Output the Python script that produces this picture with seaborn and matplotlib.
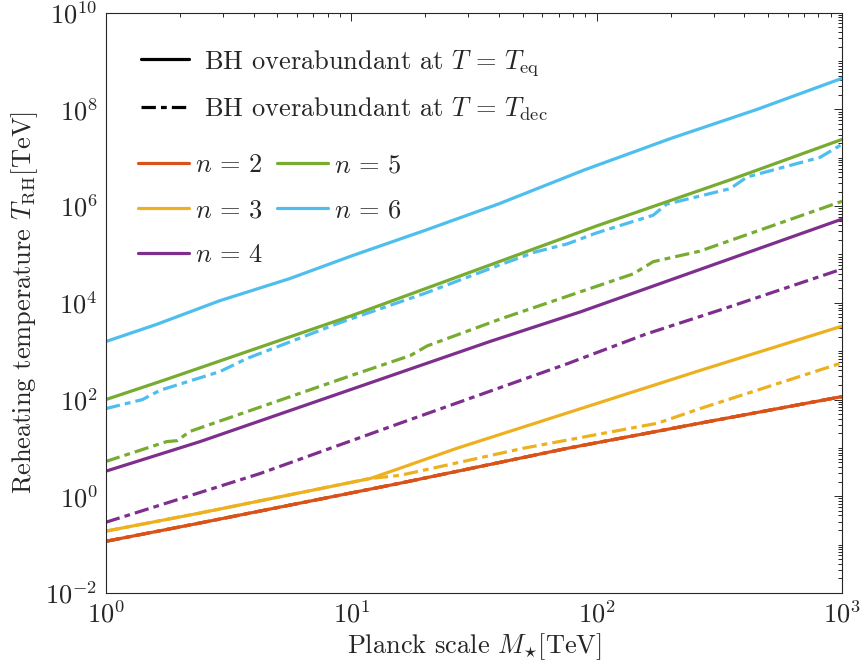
import numpy as np
import pandas as pd
import matplotlib
matplotlib.use("Agg")
import matplotlib.pyplot as plt
import matplotlib.ticker as mticker
from matplotlib.lines import Line2D
import seaborn as sns

# ---------------- data ----------------
# n = 2
x_n2_eq = [1, 2.42, 15.8, 75.9, 263, 1000]
y_n2_eq = [0.117, 0.28, 1.86, 9.8, 32.4, 115]
x_n2_dec = [1, 2.42, 15.8, 75.9, 263, 1000]
y_n2_dec = [0.117, 0.28, 1.86, 9.8, 32.4, 115]
# n = 3
x_n3_eq = [1, 2.42, 12.0, 15.8, 26.9, 263, 1000]
y_n3_eq = [0.19, 0.45, 2.34, 3.8, 9.8, 398, 3300]
x_n3_dec = [1, 2.42, 12.0, 15.8, 50.1, 177, 263, 1000]
y_n3_dec = [0.19, 0.45, 2.34, 2.7, 9.8, 32.4, 64.6, 575]
# n = 4
x_n4_eq = [1, 2.42, 36.7, 85.5, 1000]
y_n4_eq = [3.3, 13.5, 1585, 6457, 5.4e5]
x_n4_dec = [1, 4.25, 15.8, 75.9, 158, 331, 1000]
y_n4_dec = [0.29, 2.95, 32.4, 550, 2240, 7590, 5.0e4]
# n = 5
x_n5_eq = [1, 1.7, 10, 100, 150, 350, 1000]
y_n5_eq = [100, 245, 5.4e3, 3.9e5, 7.9e5, 3.5e6, 2.4e7]
x_n5_dec = [1, 1.77, 1.95, 2.2, 9.9, 17.4, 20.4, 40.7, 141, 170, 263, 1000]
y_n5_dec = [5.25, 13.5, 14.1, 21.9, 309, 813, 1288, 4677, 3.98e4, 7.1e4, 1.17e5, 1.26e6]
# n = 6
x_n6_eq = [1, 1.6, 2.9, 5.6, 10, 20, 40, 89, 200, 450, 1000]
y_n6_eq = [1585, 3548, 1.1e4, 3.16e4, 9.3e4, 3.16e5, 1.12e6, 5.6e6, 2.5e7, 1.0e8, 4.4e8]
x_n6_dec = [1, 1.41, 1.66, 2.92, 3.76, 9.0, 20, 40, 56, 76, 100, 170, 193, 350, 410, 813, 1000]
y_n6_dec = [65, 100, 155, 380, 708, 3.9e3, 1.58e4, 6.0e4, 1.12e5, 1.66e5, 2.8e5, 6.5e5,
            1.1e6, 2.3e6, 4.0e6, 1.02e7, 1.9e7]

n_labels = [r"$n\,=\,2$", r"$n\,=\,3$", r"$n\,=\,4$", r"$n\,=\,5$", r"$n\,=\,6$"]
n_colors = ["#D95319", "#EDB120", "#7E2F8E", "#77AC30", "#4DBEEE"]
style_labels = [r"BH overabundant at $T\,=\,T_{\rm eq}$", r"BH overabundant at $T\,=\,T_{\rm dec}$"]
x_ticks = [1, 10, 100, 1000]
y_ticks = [1e-2, 1e0, 1e2, 1e4, 1e6, 1e8, 1e10]

eq_series = [(x_n2_eq, y_n2_eq), (x_n3_eq, y_n3_eq), (x_n4_eq, y_n4_eq),
             (x_n5_eq, y_n5_eq), (x_n6_eq, y_n6_eq)]
dec_series = [(x_n2_dec, y_n2_dec), (x_n3_dec, y_n3_dec), (x_n4_dec, y_n4_dec),
              (x_n5_dec, y_n5_dec), (x_n6_dec, y_n6_dec)]

# ---------------- style ----------------
sns.set_style("white")
plt.rcParams["font.family"] = ["cmr10", "DejaVu Serif"]
plt.rcParams["mathtext.fontset"] = "cm"
plt.rcParams["axes.unicode_minus"] = False
plt.rcParams["axes.formatter.use_mathtext"] = True
FS = 19

fig = plt.figure(figsize=(8.61, 6.70), dpi=100)
ax = fig.add_axes([0.123, 0.115, 0.855, 0.866])
ax.set_xscale("log")
ax.set_yscale("log")

LW = 2.3
DASH = (0, (4.5, 1.6, 1.8, 1.6))

for i, (xd, yd) in enumerate(dec_series):
    sns.lineplot(x=xd, y=yd, ax=ax, color=n_colors[i], linewidth=LW, linestyle=DASH,
                 estimator=None, sort=False, legend=False)
for i, (xe, ye) in enumerate(eq_series):
    sns.lineplot(x=xe, y=ye, ax=ax, color=n_colors[i], linewidth=LW, linestyle="-",
                 estimator=None, sort=False, legend=False)
# n=2 dashed overlaps its solid line
sns.lineplot(x=x_n2_dec, y=y_n2_dec, ax=ax, color=n_colors[0], linewidth=LW, linestyle=DASH,
             estimator=None, sort=False, legend=False)

ax.set_xlim(1, 1000)
ax.set_ylim(1e-2, 1e10)

ax.xaxis.set_major_locator(mticker.FixedLocator(x_ticks))
ax.yaxis.set_major_locator(mticker.FixedLocator(y_ticks))
ax.xaxis.set_minor_locator(mticker.LogLocator(base=10, subs=np.arange(2, 10), numticks=200))
ax.yaxis.set_minor_locator(mticker.LogLocator(base=10, subs=np.arange(1, 10), numticks=200))
fmt = mticker.FuncFormatter(lambda v, p: r"$10^{%d}$" % int(round(np.log10(v))))
ax.xaxis.set_major_formatter(fmt)
ax.yaxis.set_major_formatter(fmt)
ax.xaxis.set_minor_formatter(mticker.NullFormatter())
ax.yaxis.set_minor_formatter(mticker.NullFormatter())

axcol = "#262626"
ax.tick_params(which="both", direction="in", top=True, right=True, colors=axcol,
               labelsize=FS, width=0.7)
ax.tick_params(which="major", length=5.5, pad=6)
ax.tick_params(which="minor", length=3.2)
for s in ax.spines.values():
    s.set_color(axcol)
    s.set_linewidth(0.8)

ax.set_xlabel(r"Planck scale $M_{\star}[\rm TeV]$", fontsize=FS, color=axcol, labelpad=2)
ax.set_ylabel(r"Reheating temperature $T_{\rm RH}[\rm TeV]$", fontsize=FS, color=axcol, labelpad=4)

# legends
style_handles = [Line2D([], [], color="black", lw=LW, ls="-"),
                 Line2D([], [], color="black", lw=LW, ls=DASH)]
leg1 = ax.legend(style_handles, style_labels, loc="upper left", bbox_to_anchor=(0.048, 0.94),
                 frameon=False, fontsize=FS, handlelength=1.8, handletextpad=0.57,
                 labelspacing=0.67, borderpad=0, borderaxespad=0)
ax.add_artist(leg1)
n_handles = [Line2D([], [], color=c, lw=LW, ls="-") for c in n_colors]
leg2 = ax.legend(n_handles, n_labels, loc="upper left", bbox_to_anchor=(0.044, 0.757),
                 ncol=2, frameon=False, fontsize=FS, handlelength=1.93, handletextpad=0.2,
                 labelspacing=0.8, columnspacing=0.57, borderpad=0, borderaxespad=0)

fig.savefig("out.png", dpi=100)
